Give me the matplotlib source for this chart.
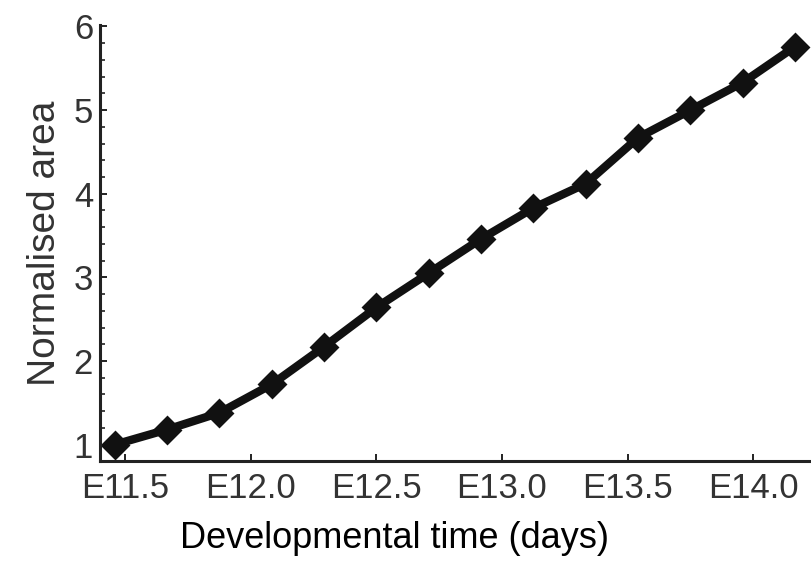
import matplotlib.pyplot as plt
from matplotlib.ticker import MultipleLocator

plt.rcParams['font.family'] = ['Liberation Sans', 'DejaVu Sans']

# sampling every 5 hours from E11.5 onward (hours after E0)
hours = [275, 280, 285, 290, 295, 300, 305, 310, 315, 320, 325, 330, 335, 340]
area = [1.00, 1.18, 1.38, 1.72, 2.17, 2.64, 3.05, 3.46, 3.83, 4.12, 4.67, 5.00, 5.33, 5.76]
xticks = [11.5, 12.0, 12.5, 13.0, 13.5, 14.0]
xticklabels = ['E11.5', 'E12.0', 'E12.5', 'E13.0', 'E13.5', 'E14.0']
yticks = [1, 2, 3, 4, 5, 6]

days = [h / 24 for h in hours]

fig = plt.figure(figsize=(8.11, 5.64), dpi=100)
ax = fig.add_axes([0.1233, 0.182, 0.8767, 0.774])

ax.plot(days, area, color='#111111', lw=6, marker='D', ms=13.5,
        mec='#111111', mew=2, solid_joinstyle='round', clip_on=False)

ax.set_xlim(11.4, 14.23)
ax.set_ylim(0.80, 6.02)
ax.set_xticks(xticks)
ax.set_xticklabels(xticklabels)
ax.set_yticks(yticks)
ax.yaxis.set_minor_locator(MultipleLocator(0.2))

for s in ['top', 'right']:
    ax.spines[s].set_visible(False)
for s in ['left', 'bottom']:
    ax.spines[s].set_linewidth(2.2)
    ax.spines[s].set_color('#222222')

ax.tick_params(axis='both', which='major', direction='in', length=5, width=1.4,
               color='#222222', labelsize=25, labelcolor='#333333')
ax.tick_params(axis='x', which='major', pad=8)
ax.tick_params(axis='y', which='major', pad=5)
ax.tick_params(axis='y', which='minor', direction='in', length=3.5, width=1.2,
               color='#222222')
ax.tick_params(axis='x', which='minor', length=0)

ax.set_ylabel('Normalised area', fontsize=28, color='#333333', labelpad=8)
fig.text(394 / 811, 1 - 538 / 564, 'Developmental time (days)', fontsize=26,
         color='black', ha='center', va='center')

fig.savefig('out.png', dpi=100)
